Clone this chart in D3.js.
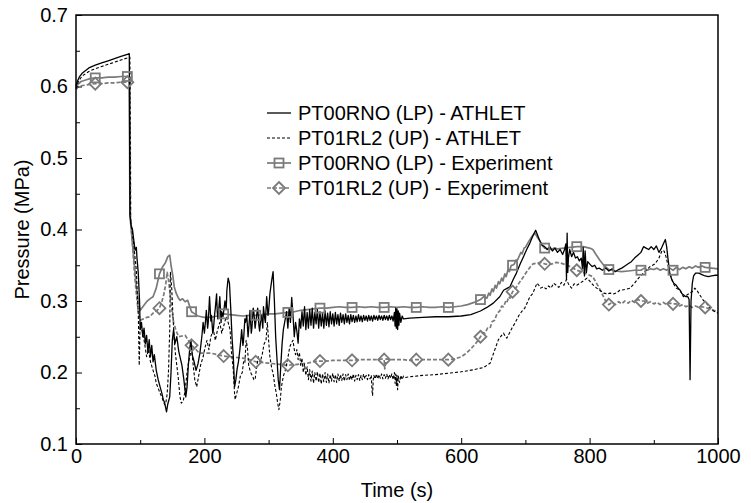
<!DOCTYPE html>
<html>
<head>
<meta charset="utf-8">
<script src="https://cdn.jsdelivr.net/npm/d3@7"></script>
<style>
body { margin: 0; background: #fff; }
svg text { font-family: "Liberation Sans", Arial, sans-serif; }
</style>
</head>
<body>
<svg id="main" width="751" height="503"></svg>
<script>
// ATHLET PT00RNO (LP), [time s, pressure MPa]
var athletLP = [[0,0.600],[2,0.607],[5,0.613],[10,0.619],[20,0.626],[30,0.630],[40,0.633],[50,0.636],[60,0.639],[70,0.642],[80,0.645],[83,0.646],[84,0.42],[86,0.405],[88,0.40],[90,0.385],[92,0.371],[94,0.375],[95,0.36],[97,0.339],[99,0.30],[100,0.26],[102,0.27],[104,0.25],[106,0.262],[108,0.24],[110,0.252],[112,0.228],[114,0.246],[116,0.222],[118,0.238],[120,0.215],[122,0.225],[125,0.203],[128,0.19],[131,0.18],[134,0.17],[136,0.162],[138,0.158],[141,0.145],[143,0.156],[146,0.166],[148,0.20],[150,0.245],[152,0.26],[154,0.24],[157,0.25],[160,0.23],[162,0.222],[165,0.21],[168,0.19],[171,0.166],[173,0.18],[175,0.21],[177,0.232],[179,0.245],[181,0.225],[184,0.215],[187,0.203],[190,0.212],[193,0.227],[196,0.25],[198,0.27],[200,0.255],[202,0.275],[203,0.287],[205,0.262],[206,0.27],[208,0.306],[210,0.272],[211,0.28],[213,0.255],[214,0.26],[216,0.282],[217,0.29],[219,0.31],[220,0.285],[221,0.275],[223,0.295],[224,0.306],[226,0.27],[227,0.285],[229,0.278],[231,0.292],[232,0.30],[234,0.288],[235,0.315],[237,0.332],[239,0.325],[241,0.29],[243,0.25],[245,0.222],[247,0.18],[249,0.19],[251,0.205],[253,0.215],[255,0.23],[257,0.248],[258,0.26],[260,0.238],[261,0.245],[263,0.275],[264,0.27],[266,0.28],[268,0.25],[270,0.272],[271,0.287],[273,0.255],[274,0.262],[276,0.29],[277,0.285],[279,0.262],[280,0.27],[282,0.284],[283,0.29],[285,0.265],[286,0.258],[288,0.276],[289,0.28],[291,0.262],[292,0.292],[294,0.275],[295,0.27],[297,0.306],[299,0.28],[300,0.285],[302,0.31],[305,0.33],[307,0.341],[309,0.30],[311,0.25],[313,0.22],[315,0.19],[317,0.176],[319,0.21],[321,0.24],[323,0.26],[325,0.27],[328,0.285],[330,0.262],[332,0.29],[334,0.27],[336,0.305],[338,0.28],[340,0.25],[342,0.27],[344,0.258],[346,0.241],[348,0.275],[350,0.262],[352,0.285],[354,0.265],[356,0.292],[358,0.26],[360,0.284],[362,0.262],[364,0.288],[366,0.266],[368,0.29],[370,0.262],[372,0.284],[374,0.268],[376,0.288],[378,0.262],[380,0.285],[382,0.265],[384,0.283],[386,0.262],[388,0.286],[390,0.266],[392,0.283],[394,0.264],[396,0.285],[398,0.268],[400,0.282],[402,0.265],[404,0.284],[406,0.268],[408,0.281],[410,0.266],[412,0.283],[414,0.27],[416,0.281],[418,0.268],[420,0.282],[422,0.27],[424,0.28],[426,0.268],[428,0.281],[430,0.271],[432,0.28],[434,0.27],[436,0.279],[438,0.271],[440,0.281],[442,0.272],[444,0.279],[446,0.271],[448,0.28],[450,0.273],[452,0.279],[454,0.272],[456,0.28],[458,0.273],[460,0.279],[462,0.272],[464,0.28],[466,0.274],[468,0.279],[470,0.273],[472,0.28],[474,0.274],[476,0.279],[478,0.273],[480,0.28],[482,0.274],[484,0.279],[486,0.273],[488,0.28],[490,0.274],[492,0.279],[494,0.272],[496,0.284],[497,0.265],[498,0.29],[499,0.262],[500,0.289],[501,0.26],[502,0.286],[503,0.266],[504,0.283],[506,0.27],[508,0.279],[510,0.275],[520,0.276],[540,0.277],[560,0.278],[580,0.278],[600,0.279],[615,0.281],[630,0.286],[640,0.291],[650,0.297],[660,0.306],[666,0.315],[672,0.318],[676,0.32],[681,0.33],[686,0.339],[692,0.352],[697,0.362],[702,0.372],[707,0.381],[712,0.392],[716,0.399],[719,0.392],[722,0.385],[726,0.378],[730,0.376],[734,0.372],[738,0.376],[742,0.37],[746,0.374],[750,0.368],[754,0.372],[758,0.365],[761,0.372],[763,0.38],[764,0.33],[765,0.395],[766,0.34],[767,0.36],[769,0.372],[772,0.362],[775,0.368],[778,0.36],[781,0.362],[784,0.356],[787,0.36],[789,0.345],[790,0.375],[792,0.335],[793,0.37],[795,0.34],[797,0.355],[800,0.352],[804,0.348],[808,0.35],[811,0.345],[815,0.346],[820,0.343],[825,0.346],[830,0.342],[835,0.345],[840,0.341],[845,0.344],[850,0.346],[855,0.349],[860,0.352],[865,0.355],[870,0.36],[875,0.364],[880,0.368],[884,0.376],[888,0.374],[892,0.372],[896,0.376],[900,0.372],[904,0.377],[908,0.368],[912,0.374],[915,0.38],[918,0.386],[920,0.376],[922,0.36],[925,0.338],[928,0.33],[931,0.325],[935,0.322],[938,0.318],[941,0.315],[944,0.31],[947,0.308],[950,0.306],[953,0.306],[955,0.302],[956.5,0.19],[958,0.30],[960,0.325],[962,0.335],[965,0.339],[970,0.339],[975,0.337],[980,0.335],[985,0.334],[990,0.335],[995,0.336],[1000,0.336]];

// ATHLET PT01RL2 (UP)
var athletUP = [[0,0.597],[2,0.603],[5,0.609],[10,0.615],[20,0.621],[30,0.625],[40,0.628],[50,0.631],[60,0.634],[70,0.637],[80,0.640],[84,0.641],[85,0.41],[87,0.40],[90,0.38],[92,0.36],[94,0.343],[96,0.30],[97,0.283],[98.5,0.21],[100,0.27],[102,0.262],[104,0.255],[107,0.24],[110,0.222],[113,0.232],[116,0.215],[120,0.203],[123,0.195],[125,0.185],[128,0.178],[131,0.171],[134,0.165],[136,0.16],[138,0.155],[140,0.158],[142,0.17],[144,0.2],[146,0.26],[147,0.34],[149,0.32],[151,0.28],[153,0.245],[155,0.225],[157,0.21],[159,0.195],[162,0.166],[164,0.157],[167,0.16],[170,0.175],[173,0.2],[175,0.213],[178,0.225],[180,0.236],[182,0.215],[185,0.19],[188,0.18],[191,0.195],[194,0.21],[198,0.222],[201,0.235],[204,0.245],[207,0.232],[210,0.25],[214,0.26],[217,0.245],[220,0.258],[224,0.27],[227,0.255],[230,0.265],[234,0.278],[237,0.27],[240,0.26],[242,0.23],[245,0.203],[247,0.17],[248,0.162],[250,0.17],[253,0.18],[256,0.195],[259,0.2],[261,0.215],[263,0.213],[265,0.245],[267,0.235],[269,0.21],[272,0.2],[275,0.195],[277,0.19],[279,0.19],[281,0.205],[284,0.222],[287,0.215],[290,0.225],[293,0.24],[296,0.245],[298,0.27],[300,0.245],[302,0.222],[305,0.205],[307,0.199],[310,0.18],[312,0.171],[314,0.158],[316,0.148],[318,0.16],[320,0.18],[323,0.195],[326,0.203],[329,0.215],[333,0.236],[336,0.242],[338,0.245],[340,0.232],[342,0.225],[344,0.232],[346,0.218],[348,0.228],[350,0.21],[352,0.22],[354,0.2],[356,0.212],[358,0.196],[360,0.208],[362,0.19],[364,0.204],[366,0.188],[368,0.202],[370,0.185],[372,0.2],[374,0.188],[376,0.201],[378,0.186],[380,0.199],[382,0.184],[384,0.198],[386,0.187],[388,0.2],[390,0.186],[392,0.198],[394,0.185],[396,0.197],[398,0.188],[400,0.199],[402,0.187],[404,0.197],[406,0.186],[408,0.198],[410,0.188],[412,0.197],[414,0.189],[416,0.198],[418,0.188],[420,0.197],[422,0.19],[424,0.198],[426,0.189],[428,0.196],[430,0.19],[432,0.198],[434,0.188],[436,0.196],[438,0.19],[440,0.197],[442,0.189],[444,0.196],[446,0.19],[448,0.198],[450,0.191],[452,0.196],[454,0.19],[456,0.197],[458,0.191],[460,0.196],[461,0.175],[462,0.168],[463,0.19],[464,0.196],[466,0.191],[468,0.198],[470,0.191],[472,0.197],[474,0.192],[476,0.198],[478,0.191],[480,0.197],[482,0.192],[484,0.198],[486,0.191],[488,0.197],[490,0.192],[492,0.198],[494,0.19],[496,0.2],[497,0.185],[498,0.198],[499,0.182],[500,0.196],[501,0.176],[502,0.195],[504,0.186],[506,0.196],[508,0.19],[510,0.195],[512,0.193],[520,0.194],[540,0.196],[560,0.197],[580,0.199],[600,0.201],[620,0.204],[635,0.207],[645,0.213],[652,0.231],[658,0.246],[663,0.252],[666,0.255],[669,0.25],[671,0.248],[675,0.255],[679,0.262],[683,0.268],[686,0.273],[690,0.28],[694,0.285],[699,0.29],[703,0.298],[707,0.306],[711,0.31],[715,0.318],[718,0.325],[721,0.322],[724,0.318],[728,0.32],[732,0.317],[736,0.321],[740,0.318],[744,0.325],[748,0.322],[752,0.319],[756,0.326],[760,0.322],[764,0.33],[768,0.322],[772,0.318],[776,0.324],[780,0.322],[785,0.325],[790,0.328],[796,0.332],[800,0.328],[806,0.322],[811,0.318],[816,0.315],[822,0.311],[828,0.31],[832,0.311],[838,0.31],[843,0.312],[847,0.315],[855,0.316],[863,0.318],[870,0.325],[878,0.334],[886,0.341],[894,0.348],[902,0.352],[908,0.36],[913,0.371],[916,0.37],[919,0.362],[922,0.35],[925,0.339],[930,0.325],[935,0.318],[941,0.315],[946,0.306],[951,0.308],[956,0.311],[961,0.314],[964,0.318],[967,0.315],[972,0.308],[977,0.301],[982,0.297],[987,0.29],[993,0.286],[1000,0.283]];

// Experiment PT00RNO (LP)
var expLP = [[0,0.598],[3,0.603],[8,0.607],[15,0.609],[22,0.611],[30,0.612],[40,0.612],[50,0.613],[60,0.613],[70,0.614],[80,0.614],[83,0.614],[84,0.42],[87,0.39],[90,0.36],[94,0.32],[97,0.3],[100,0.287],[105,0.293],[110,0.299],[115,0.303],[120,0.306],[125,0.318],[130,0.338],[135,0.348],[139,0.353],[143,0.362],[146,0.364],[148,0.35],[151,0.334],[153,0.32],[156,0.311],[159,0.305],[162,0.301],[166,0.303],[170,0.299],[174,0.301],[178,0.29],[180,0.285],[185,0.282],[190,0.279],[195,0.278],[200,0.277],[210,0.277],[220,0.279],[230,0.282],[240,0.281],[250,0.28],[260,0.279],[270,0.28],[280,0.28],[290,0.281],[300,0.282],[310,0.282],[320,0.283],[330,0.284],[340,0.285],[350,0.287],[360,0.288],[370,0.289],[380,0.29],[390,0.29],[400,0.291],[410,0.292],[420,0.291],[430,0.291],[440,0.292],[450,0.291],[460,0.292],[470,0.291],[480,0.291],[490,0.292],[500,0.291],[510,0.292],[520,0.291],[530,0.291],[540,0.292],[550,0.291],[560,0.291],[570,0.292],[580,0.291],[590,0.292],[600,0.293],[610,0.295],[620,0.298],[630,0.302],[635,0.306],[640,0.304],[643,0.311],[645,0.308],[648,0.317],[650,0.313],[653,0.322],[655,0.318],[658,0.327],[660,0.324],[663,0.332],[665,0.328],[668,0.338],[670,0.334],[673,0.344],[675,0.341],[678,0.35],[680,0.35],[683,0.352],[685,0.357],[688,0.358],[690,0.362],[693,0.368],[695,0.366],[698,0.374],[700,0.375],[705,0.383],[710,0.39],[715,0.395],[718,0.39],[722,0.385],[726,0.378],[730,0.374],[735,0.373],[740,0.372],[745,0.374],[750,0.373],[760,0.374],[770,0.375],[780,0.376],[790,0.376],[800,0.374],[805,0.372],[810,0.365],[816,0.357],[822,0.35],[830,0.344],[840,0.342],[850,0.341],[860,0.342],[870,0.343],[880,0.343],[885,0.346],[890,0.343],[895,0.345],[900,0.344],[905,0.346],[910,0.343],[915,0.345],[920,0.343],[925,0.346],[930,0.343],[935,0.347],[940,0.344],[945,0.347],[950,0.345],[955,0.348],[960,0.346],[965,0.349],[970,0.347],[975,0.349],[980,0.347],[990,0.346],[1000,0.345]];

// Experiment PT01RL2 (UP)
var expUP = [[0,0.596],[3,0.599],[8,0.601],[15,0.602],[22,0.603],[30,0.604],[40,0.604],[50,0.605],[60,0.605],[70,0.606],[80,0.606],[84,0.606],[85,0.42],[88,0.38],[91,0.34],[94,0.31],[97,0.285],[100,0.273],[105,0.275],[110,0.277],[115,0.278],[120,0.283],[125,0.286],[130,0.29],[134,0.3],[137,0.31],[140,0.325],[142,0.34],[144,0.33],[146,0.315],[149,0.29],[152,0.27],[156,0.258],[160,0.25],[165,0.251],[170,0.252],[175,0.245],[180,0.238],[185,0.234],[190,0.229],[195,0.227],[200,0.227],[210,0.227],[220,0.225],[230,0.223],[240,0.222],[250,0.221],[260,0.22],[270,0.218],[280,0.215],[290,0.214],[300,0.213],[310,0.212],[320,0.211],[330,0.21],[340,0.211],[350,0.212],[360,0.213],[370,0.215],[380,0.216],[390,0.216],[400,0.217],[410,0.217],[420,0.217],[430,0.217],[440,0.218],[450,0.218],[460,0.218],[470,0.218],[478,0.219],[480,0.218],[481,0.205],[483,0.219],[490,0.218],[500,0.218],[510,0.218],[520,0.217],[530,0.218],[540,0.218],[550,0.218],[560,0.218],[570,0.218],[580,0.218],[590,0.219],[600,0.222],[608,0.227],[615,0.233],[623,0.241],[630,0.25],[634,0.256],[637,0.255],[641,0.262],[645,0.262],[648,0.271],[652,0.273],[656,0.283],[660,0.286],[663,0.293],[666,0.292],[669,0.299],[671,0.297],[674,0.306],[676,0.304],[680,0.313],[685,0.318],[690,0.325],[697,0.334],[702,0.341],[707,0.347],[712,0.352],[718,0.353],[724,0.354],[730,0.352],[736,0.351],[742,0.352],[748,0.354],[755,0.353],[762,0.351],[770,0.348],[780,0.343],[790,0.34],[800,0.336],[805,0.334],[810,0.326],[815,0.318],[820,0.309],[825,0.3],[830,0.295],[835,0.298],[840,0.295],[845,0.299],[850,0.296],[855,0.3],[860,0.297],[865,0.301],[870,0.298],[875,0.302],[880,0.3],[885,0.3],[890,0.297],[895,0.299],[900,0.296],[905,0.298],[910,0.295],[915,0.298],[920,0.295],[925,0.297],[930,0.296],[935,0.296],[940,0.293],[945,0.295],[950,0.292],[955,0.294],[960,0.291],[965,0.293],[970,0.291],[975,0.292],[980,0.291],[990,0.288],[1000,0.285]];

// marker times on the experiment curves
var markerTimes = [30,80,130,180,230,280,330,380,430,480,530,580,630,680,730,780,830,880,930,980];

var xTicks = [0,200,400,600,800,1000];
var xMinor = [100,300,500,700,900];
var yTicks = [0.1,0.2,0.3,0.4,0.5,0.6,0.7];
var yMinor = [0.15,0.25,0.35,0.45,0.55,0.65];

var legendNames = ["PT00RNO (LP) - ATHLET","PT01RL2 (UP) - ATHLET","PT00RNO (LP) - Experiment","PT01RL2 (UP) - Experiment"];

window.onload = function() {
var svg = d3.select("#main");
var left = 76, top = 15, right = 718, bottom = 444;
var gray = "#7a7a7a";

var x = d3.scaleLinear().domain([0,1000]).range([left,right]);
var y = d3.scaleLinear().domain([0.1,0.7]).range([bottom,top]);

var line = d3.line()
	.x(function(d){ return x(d[0]); })
	.y(function(d){ return y(d[1]); });

var styles = [
	{data: athletLP, color: "#000", width: 1.3, dash: null, marker: null},
	{data: athletUP, color: "#000", width: 1.1, dash: "3,2", marker: null},
	{data: expLP, color: gray, width: 1.7, dash: null, marker: "square"},
	{data: expUP, color: gray, width: 1.7, dash: "4,2", marker: "diamond"}
];

var plot = svg.append("g");
// draw experiments first, ATHLET over them
[2,3,0,1].forEach(function(i){
	var s = styles[i];
	plot.append("path")
		.datum(s.data)
		.attr("d", line)
		.attr("fill", "none")
		.attr("stroke", s.color)
		.attr("stroke-width", s.width)
		.attr("stroke-dasharray", s.dash)
		.attr("stroke-linejoin", "round");
});

var drawMarker = function(g, kind, cx, cy) {
	if (kind == "square") {
		g.append("rect")
			.attr("x", cx-4.5).attr("y", cy-4.5)
			.attr("width", 9).attr("height", 9)
			.attr("fill", "none").attr("stroke", gray).attr("stroke-width", 1.8);
	} else {
		g.append("path")
			.attr("d", "M"+cx+","+(cy-6)+"L"+(cx+6)+","+cy+"L"+cx+","+(cy+6)+"L"+(cx-6)+","+cy+"Z")
			.attr("fill", "none").attr("stroke", gray).attr("stroke-width", 1.8);
	}
};

[2,3].forEach(function(i){
	var s = styles[i];
	s.data.forEach(function(d){
		if (markerTimes.indexOf(d[0]) >= 0) drawMarker(plot, s.marker, x(d[0]), y(d[1]));
	});
});

// frame
svg.append("rect")
	.attr("x", left).attr("y", top)
	.attr("width", right-left).attr("height", bottom-top)
	.attr("fill", "none").attr("stroke", "#000").attr("stroke-width", 1.5);

// axes, ticks inward
svg.append("g")
	.attr("transform", "translate(0,"+bottom+")")
	.call(d3.axisBottom(x).tickValues(xTicks).tickSize(-6).tickPadding(5).tickFormat(d3.format("d")));
svg.append("g")
	.attr("transform", "translate(0,"+bottom+")")
	.call(d3.axisBottom(x).tickValues(xMinor).tickSize(-4).tickFormat(""));
svg.append("g")
	.attr("transform", "translate("+left+",0)")
	.call(d3.axisLeft(y).tickValues(yTicks).tickSize(-6).tickPadding(8).tickFormat(d3.format(".1f")));
svg.append("g")
	.attr("transform", "translate("+left+",0)")
	.call(d3.axisLeft(y).tickValues(yMinor).tickSize(-4).tickFormat(""));

svg.selectAll(".domain").remove();
svg.selectAll(".tick line").attr("stroke", "#000").attr("stroke-width", 1);
svg.selectAll(".tick text")
	.attr("fill", "#000")
	.style("font-size", "20px")
	.style("font-family", "'Liberation Sans', Arial, sans-serif");

// axis titles
svg.append("text")
	.attr("x", (left+right)/2).attr("y", 497)
	.attr("text-anchor", "middle")
	.style("font-size", "20px")
	.text("Time (s)");
svg.append("text")
	.attr("transform", "translate(29,"+((top+bottom)/2)+") rotate(-90)")
	.attr("text-anchor", "middle")
	.style("font-size", "20px")
	.text("Pressure (MPa)");

// legend
var lg = svg.append("g");
legendNames.forEach(function(name, i){
	var s = styles[i];
	var ly = 113 + i*25;
	lg.append("line")
		.attr("x1", 267).attr("x2", 291)
		.attr("y1", ly).attr("y2", ly)
		.attr("stroke", s.color)
		.attr("stroke-width", s.width)
		.attr("stroke-dasharray", s.dash);
	if (s.marker) drawMarker(lg, s.marker, 279, ly);
	lg.append("text")
		.attr("x", 298).attr("y", ly+7)
		.style("font-size", "20px")
		.text(name);
});
};
</script>
</body>
</html>
